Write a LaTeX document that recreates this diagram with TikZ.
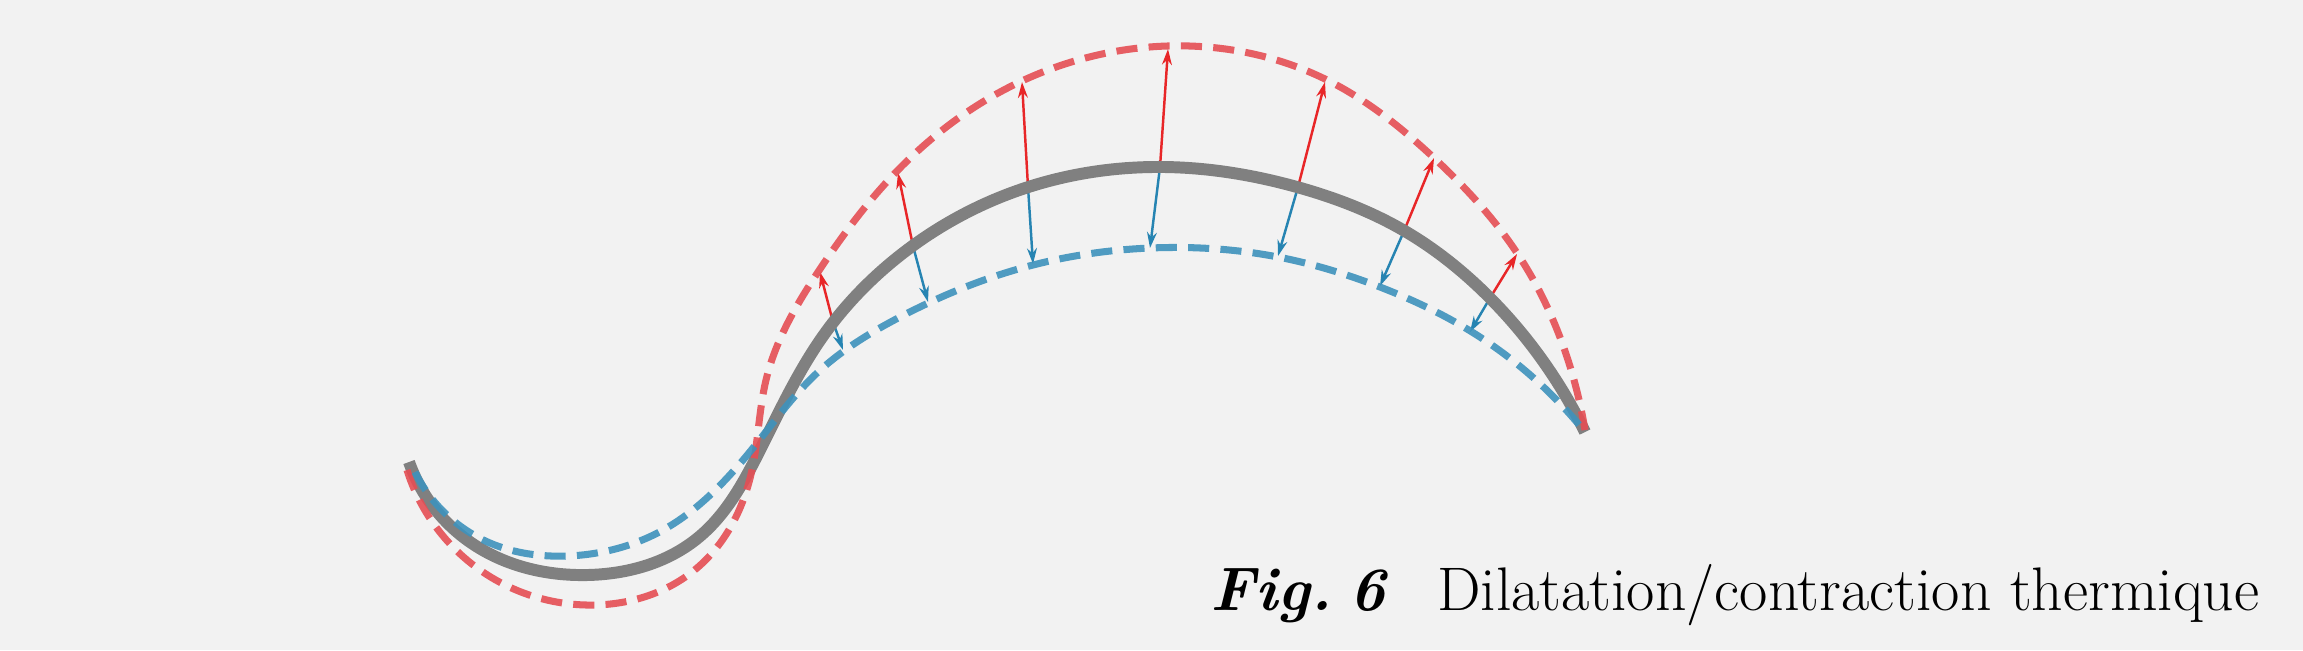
\documentclass[tikz,border=0pt]{standalone}
\usepackage{fontspec}
\usepackage{tikz}
\usetikzlibrary{arrows.meta,hobby}
\definecolor{bggray}{RGB}{242,242,242}
\definecolor{wire}{RGB}{128,128,128}
\definecolor{hot}{RGB}{229,78,84}
\definecolor{hotarr}{RGB}{232,38,40}
\definecolor{cold}{RGB}{62,146,188}
\definecolor{coldarr}{RGB}{38,132,178}

\begin{document}
\begin{tikzpicture}[x=0.01cm, y=-0.01cm,
  hotline/.style={hot, line width=2pt, dash pattern=on 6pt off 3.2pt, draw opacity=0.9},
  coldline/.style={cold, line width=2pt, dash pattern=on 6pt off 3.2pt, draw opacity=0.9},
  hotarrow/.style={hotarr, line width=0.7pt, -{Stealth[length=4.5pt,width=2.8pt]}},
  coldarrow/.style={coldarr, line width=0.7pt, -{Stealth[length=4.5pt,width=2.8pt]}}]
  \fill[bggray] (0,0) rectangle (2303,650);
  \useasboundingbox (0,0) rectangle (2303,650);
  % --- arrows: rest position -> hot / cold position
  \coordinate (g1) at (833,322);  \coordinate (r1) at (820,272);  \coordinate (b1) at (843,350);
  \coordinate (g2) at (913,246);  \coordinate (r2) at (898,173);  \coordinate (b2) at (928,302);
  \coordinate (g3) at (1028,187); \coordinate (r3) at (1022,82);  \coordinate (b3) at (1033,264);
  \coordinate (g4) at (1160,167); \coordinate (r4) at (1168,49);  \coordinate (b4) at (1150,248);
  \coordinate (g5) at (1298,187); \coordinate (r5) at (1325,82);  \coordinate (b5) at (1278,256);
  \coordinate (g6) at (1404,231); \coordinate (r6) at (1434,158); \coordinate (b6) at (1380,286);
  \coordinate (g7) at (1490,298); \coordinate (r7) at (1517,254); \coordinate (b7) at (1470,332);
  \draw[hotarrow] (g1) -- (r1); \draw[coldarrow] (g1) -- (b1);
  \draw[hotarrow] (g2) -- (r2); \draw[coldarrow] (g2) -- (b2);
  \draw[hotarrow] (g3) -- (r3); \draw[coldarrow] (g3) -- (b3);
  \draw[hotarrow] (g4) -- (r4); \draw[coldarrow] (g4) -- (b4);
  \draw[hotarrow] (g5) -- (r5); \draw[coldarrow] (g5) -- (b5);
  \draw[hotarrow] (g6) -- (r6); \draw[coldarrow] (g6) -- (b6);
  \draw[hotarrow] (g7) -- (r7); \draw[coldarrow] (g7) -- (b7);
  % --- part at rest
  \draw[wire, line width=3.4pt] (409,462) to[curve through={(470,542) .. (587,575)
    .. (699,537) .. (760,450) .. (823,336) .. (907,250) .. (1011,193) .. (1165,167)
    .. (1297,187) .. (1403,230) .. (1490,298)}] (1585,432);
  % --- expanded (hot)
  \draw[hotline] (407,470) to[curve through={(480,570) .. (587,605) .. (697,568)
    .. (752,470) .. (766,380) .. (820,269) .. (900,168) .. (1000,92) .. (1167,46)
    .. (1327,80) .. (1433,157) .. (1517,253) .. (1567,357)}] (1585,430);
  % --- contracted (cold)
  \draw[coldline] (415,472) to[curve through={(490,543) .. (567,556) .. (663,530)
    .. (757,443) .. (817,373) .. (900,317) .. (1033,265) .. (1150,248) .. (1278,257)
    .. (1380,287) .. (1472,332)}] (1585,432);
  \node[anchor=base east, inner sep=0pt, font=\fontsize{17.5}{21}\selectfont] (caption) at (2260,610)
    {\textbf{\textit{Fig.\hspace{0.28em}6}}\hspace{14pt}Dilatation/contraction thermique};
\end{tikzpicture}
\end{document}
